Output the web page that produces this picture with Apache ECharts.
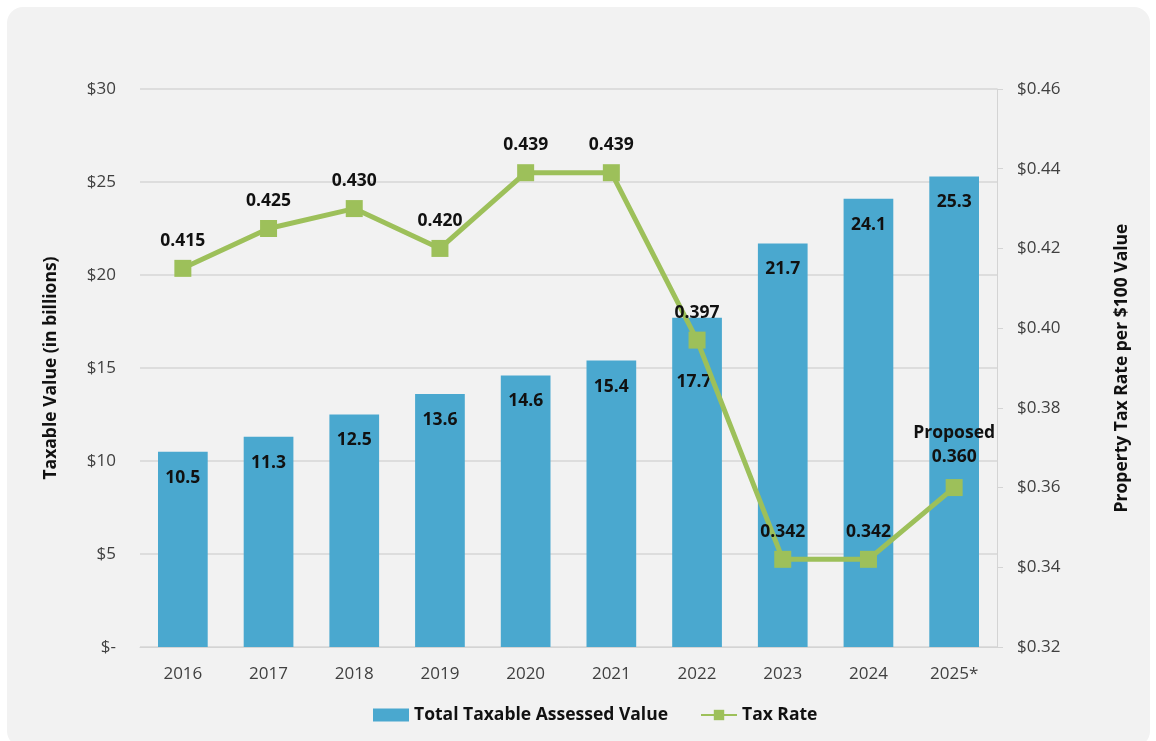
<!DOCTYPE html>
<html>
<head>
<meta charset="utf-8">
<script src="https://cdn.jsdelivr.net/npm/echarts@6/dist/echarts.min.js"></script>
<style>
  html, body { margin: 0; padding: 0; background: #ffffff; }
  #panel { position: absolute; left: 7px; top: 7px; width: 1143px; height: 740px; background: #f2f2f2; border-radius: 16px; }
  #chart { position: absolute; left: 0; top: 0; width: 1156px; height: 741px; }
</style>
</head>
<body>
<div id="panel"></div>
<div id="chart"></div>
<script>
// Fiscal years shown on the category axis
const years = ['2016', '2017', '2018', '2019', '2020', '2021', '2022', '2023', '2024', '2025*'];
// Total taxable assessed value, in billions of dollars
const assessedValue = [10.5, 11.3, 12.5, 13.6, 14.6, 15.4, 17.7, 21.7, 24.1, 25.3];
// Property tax rate per $100 of value
const taxRate = [0.415, 0.425, 0.430, 0.420, 0.439, 0.439, 0.397, 0.342, 0.342, 0.360];

const FONT = '"Open Sans", "Noto Sans", sans-serif';
const BAR_COLOR = '#4aa8cf';
const LINE_COLOR = '#9dc05a';
const LABEL_SIZE = 17.5;
const AXIS_SIZE = 17;

const chart = echarts.init(document.getElementById('chart'));

const barData = assessedValue.map((v, i) => {
  const item = { value: v };
  if (years[i] === '2022') {
    item.label = { offset: [-3, 38] };
  }
  return item;
});

const lineData = taxRate.map((v, i) => {
  const item = { value: v };
  if (years[i] === '2025*') {
    item.label = { formatter: 'Proposed\n' + v.toFixed(3), lineHeight: 24 };
  }
  return item;
});

chart.setOption({
  animation: false,
  backgroundColor: 'transparent',
  textStyle: { fontFamily: FONT },
  grid: { left: 140, right: 159, top: 89, bottom: 94 },
  legend: {
    bottom: 12,
    left: 368,
    itemGap: 32,
    itemWidth: 36,
    itemHeight: 13,
    textStyle: { fontFamily: FONT, fontSize: LABEL_SIZE, fontWeight: 'bold', color: '#111111' },
    data: [
      { name: 'Total Taxable Assessed Value', icon: 'rect' },
      { name: 'Tax Rate' }
    ]
  },
  xAxis: {
    type: 'category',
    data: years,
    axisLine: { show: true, lineStyle: { color: '#d4d4d4', width: 1 } },
    axisTick: { show: false },
    axisLabel: { fontFamily: FONT, fontSize: AXIS_SIZE, color: '#404040', margin: 19 }
  },
  yAxis: [
    {
      type: 'value',
      min: 0,
      max: 30,
      interval: 5,
      name: 'Taxable Value (in billions)',
      nameLocation: 'middle',
      nameGap: 80,
      nameTextStyle: { fontFamily: FONT, fontSize: LABEL_SIZE, fontWeight: 'bold', color: '#111111' },
      axisLine: { show: false },
      axisTick: { show: false },
      axisLabel: {
        fontFamily: FONT, fontSize: AXIS_SIZE, color: '#404040', margin: 24,
        formatter: v => (v === 0 ? '$-' : '$' + v)
      },
      splitLine: { show: true, lineStyle: { color: '#d6d6d6', width: 1.5 } }
    },
    {
      type: 'value',
      min: 0.32,
      max: 0.46,
      interval: 0.02,
      name: 'Property Tax Rate per $100 Value',
      nameLocation: 'middle',
      nameGap: 116,
      nameRotate: 90,
      nameTextStyle: { fontFamily: FONT, fontSize: LABEL_SIZE, fontWeight: 'bold', color: '#111111' },
      axisLine: { show: true, lineStyle: { color: '#d4d4d4', width: 1 } },
      axisTick: { show: true, length: 6, lineStyle: { color: '#d4d4d4' } },
      axisLabel: {
        fontFamily: FONT, fontSize: AXIS_SIZE, color: '#404040', margin: 20,
        formatter: v => '$' + v.toFixed(2)
      },
      splitLine: { show: false }
    }
  ],
  series: [
    {
      name: 'Total Taxable Assessed Value',
      type: 'bar',
      yAxisIndex: 0,
      data: barData,
      barWidth: '58%',
      itemStyle: { color: BAR_COLOR },
      label: {
        show: true,
        position: 'insideTop',
        distance: 17,
        fontFamily: FONT,
        fontSize: LABEL_SIZE,
        fontWeight: 'bold',
        color: '#111111',
        formatter: p => p.value.toFixed(1)
      },
      z: 2
    },
    {
      name: 'Tax Rate',
      type: 'line',
      yAxisIndex: 1,
      data: lineData,
      symbol: 'rect',
      symbolSize: 17,
      lineStyle: { color: LINE_COLOR, width: 5 },
      itemStyle: { color: LINE_COLOR },
      label: {
        show: true,
        position: 'top',
        distance: 10,
        fontFamily: FONT,
        fontSize: LABEL_SIZE,
        fontWeight: 'bold',
        color: '#111111',
        formatter: p => p.value.toFixed(3)
      },
      z: 3
    }
  ]
});
</script>
</body>
</html>
